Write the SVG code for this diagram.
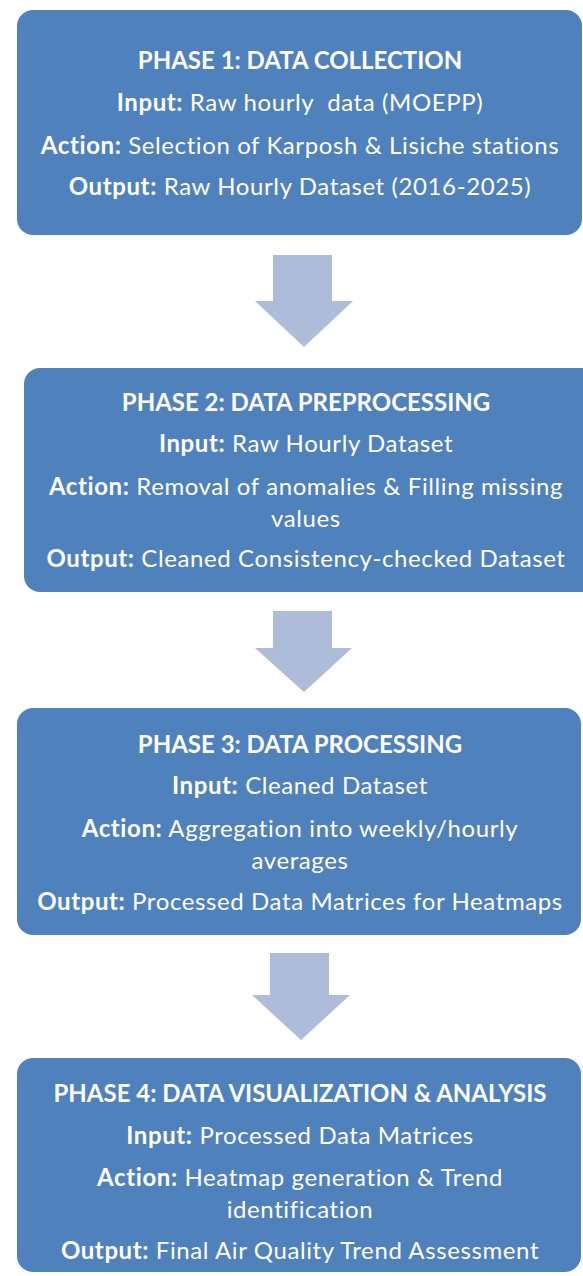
<svg xmlns="http://www.w3.org/2000/svg" width="583" height="1276" viewBox="0 0 583 1276">
<style>
.box{fill:#4f81bd;}
.arr{fill:#adbdd9;}
text{font-family:Lato,"Open Sans",sans-serif;font-size:24px;fill:#ffffff;text-anchor:middle;letter-spacing:0.6px;}
.t{font-weight:bold;letter-spacing:0;}
.b{font-weight:bold;}
</style>
<rect width="583" height="1276" fill="#ffffff"/>
<g id="connectors">
<polygon class="arr" points="273,255 332,255 332,301 353,301 304,347 255,301 273,301"/>
<polygon class="arr" points="273,611 332,611 332,648 352,648 304,692 255,648 273,648"/>
<polygon class="arr" points="270,953 329,953 329,995 350,995 301,1040 252,995 270,995"/>
</g>
<g id="phase1">
<rect class="box" x="17" y="10" width="565" height="225" rx="16"/>
<text x="300" y="69" class="t">PHASE 1: DATA COLLECTION</text>
<text x="300" y="111"><tspan class="b">Input:</tspan> Raw hourly&#160; data (MOEPP)</text>
<text x="300" y="154"><tspan class="b">Action:</tspan> Selection of Karposh &amp; Lisiche stations</text>
<text x="300" y="195"><tspan class="b">Output:</tspan> Raw Hourly Dataset (2016-2025)</text>
</g>
<g id="phase2">
<rect class="box" x="24" y="368" width="575" height="224" rx="16"/>
<text x="306" y="411" class="t">PHASE 2: DATA PREPROCESSING</text>
<text x="306" y="452"><tspan class="b">Input:</tspan> Raw Hourly Dataset</text>
<text x="306" y="495"><tspan class="b">Action:</tspan> Removal of anomalies &amp; Filling missing</text>
<text x="306" y="527">values</text>
<text x="306" y="567"><tspan class="b">Output:</tspan> Cleaned Consistency-checked Dataset</text>
</g>
<g id="phase3">
<rect class="box" x="17" y="708" width="564" height="227" rx="16"/>
<text x="300" y="753" class="t">PHASE 3: DATA PROCESSING</text>
<text x="300" y="794"><tspan class="b">Input:</tspan> Cleaned Dataset</text>
<text x="300" y="837"><tspan class="b">Action:</tspan> Aggregation into weekly/hourly</text>
<text x="300" y="869">averages</text>
<text x="300" y="910"><tspan class="b">Output:</tspan> Processed Data Matrices for Heatmaps</text>
</g>
<g id="phase4">
<rect class="box" x="17" y="1058" width="564" height="214" rx="16"/>
<text x="300" y="1102" class="t">PHASE 4: DATA VISUALIZATION &amp; ANALYSIS</text>
<text x="300" y="1144"><tspan class="b">Input:</tspan> Processed Data Matrices</text>
<text x="300" y="1186"><tspan class="b">Action:</tspan> Heatmap generation &amp; Trend</text>
<text x="300" y="1218">identification</text>
<text x="300" y="1259"><tspan class="b">Output:</tspan> Final Air Quality Trend Assessment</text>
</g>
</svg>
